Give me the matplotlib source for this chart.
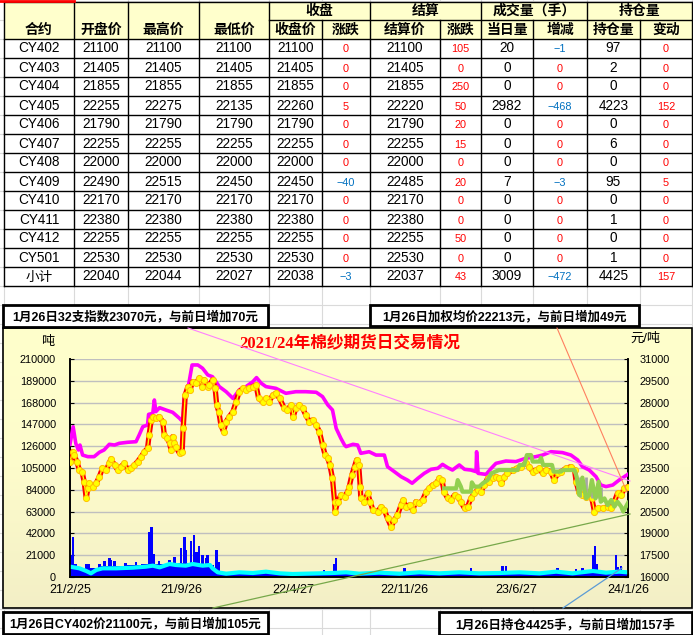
import numpy as np
import pandas as pd
import matplotlib
matplotlib.use("Agg")
import matplotlib.pyplot as plt
from matplotlib.patches import Rectangle
from matplotlib.colors import LinearSegmentedColormap

plt.rcParams['font.family'] = ['Liberation Sans', 'Noto Sans CJK SC', 'DejaVu Sans']
plt.rcParams['axes.unicode_minus'] = True

# %% table data
contracts = ["CY402", "CY403", "CY404", "CY405", "CY406", "CY407", "CY408",
             "CY409", "CY410", "CY411", "CY412", "CY501", "小计"]
open_px = [21100, 21405, 21855, 22255, 21790, 22255, 22000, 22490, 22170, 22380, 22255, 22530, 22040]
high_px = [21100, 21405, 21855, 22275, 21790, 22255, 22000, 22515, 22170, 22380, 22255, 22530, 22044]
low_px = [21100, 21405, 21855, 22135, 21790, 22255, 22000, 22450, 22170, 22380, 22255, 22530, 22027]
close_px = [21100, 21405, 21855, 22260, 21790, 22255, 22000, 22450, 22170, 22380, 22255, 22530, 22038]
close_chg = [0, 0, 0, 5, 0, 0, 0, -40, 0, 0, 0, 0, -3]
settle_px = [21100, 21405, 21855, 22220, 21790, 22255, 22000, 22485, 22170, 22380, 22255, 22530, 22037]
settle_chg = [105, 0, 250, 50, 20, 15, 0, 20, 0, 0, 50, 0, 43]
day_vol = [20, 0, 0, 2982, 0, 0, 0, 7, 0, 0, 0, 0, 3009]
vol_chg = [-1, 0, 0, -468, 0, 0, 0, -3, 0, 0, 0, 0, -472]
open_int = [97, 2, 0, 4223, 0, 6, 0, 95, 0, 1, 0, 1, 4425]
oi_chg = [0, 0, 0, 152, 0, 0, 0, 5, 0, 0, 0, 0, 157]

head_main = ["合约", "开盘价", "最高价", "最低价"]
head_groups = ["收盘", "结算", "成交量（手）", "持仓量"]
head_sub = ["收盘价", "涨跌", "结算价", "涨跌", "当日量", "增减", "持仓量", "变动"]

# %% chart data (days counted from 2021-02-25)
start = pd.Timestamp("2021-02-25")
tick_labels = ["21/2/25", "21/9/26", "22/4/27", "22/11/26", "23/6/27", "24/1/26"]
tick_dates = pd.to_datetime(["2021-02-25", "2021-09-26", "2022-04-27",
                             "2022-11-26", "2023-06-27", "2024-01-26"])

# 32支指数 (magenta, right axis)
idx_days = [0, 6, 11, 16, 19, 24, 34, 46, 56, 65, 75, 85, 94, 110, 126, 132, 139, 148, 150, 158,
            161, 164, 171, 183, 196, 209, 215, 218, 225, 228, 233, 244, 253, 263, 272, 285, 298, 311, 323, 336,
            349, 356, 365, 374, 393, 412, 431, 450, 470, 482, 492, 501, 508, 517, 524, 527, 540, 549, 555, 571,
            584, 600, 606, 619, 632, 644, 653, 664, 676, 689, 702, 711, 721, 730, 743, 753, 765, 775, 776, 779,
            794, 804, 813, 832, 851, 870, 889, 902, 918, 940, 956, 969, 978, 991, 1004, 1013, 1023, 1036, 1048, 1058,
            1065]
idx_vals = [25130, 26340, 25200, 24740, 25080, 24390, 24280, 24280, 24580, 24740, 25130, 25080, 25200, 25270, 25310, 25770, 26340, 26460, 27190, 27260,
            28180, 27380, 27650, 27490, 27330, 26920, 26690, 28520, 28980, 29560, 30590, 30590, 30360, 29900, 29780, 29100, 28750, 28290, 28870, 29100,
            29440, 29720, 29330, 29100, 28980, 28640, 28750, 28750, 28710, 28410, 27840, 27490, 26230, 25540, 25080, 24970, 25130, 25080, 24510, 24620,
            24390, 24390, 23590, 23250, 22900, 22670, 22450, 22790, 23130, 23410, 23480, 23750, 23520, 23360, 23710, 23410, 23360, 23250, 24620, 23130,
            23060, 23480, 23820, 23980, 23940, 24170, 24280, 24390, 24620, 24560, 24390, 24050, 23590, 23360, 22900, 22330, 22220, 22330, 22670, 22900,
            23070]

# 加权均价 (red line with yellow dots, right axis)
avg_days = [0, 5, 8, 13, 18, 23, 27, 31, 34, 37, 43, 50, 56, 62, 69, 75, 78, 85, 91, 97,
            104, 110, 116, 123, 129, 136, 142, 148, 151, 155, 159, 164, 170, 177, 180, 186, 190, 193, 196, 199,
            202, 209, 214, 216, 220, 225, 229, 234, 240, 247, 252, 256, 263,
            266, 272, 277, 280, 284, 288, 293, 298, 304, 311, 317, 323, 330, 336, 342, 349, 355, 360, 368, 374,
            380, 387, 393, 400, 409, 415, 422, 426, 431, 438, 444, 450, 457, 463, 470, 476, 482, 487, 492, 496,
            501, 505, 506, 511, 517, 524, 530,
            533, 538, 543, 547, 551, 554, 555, 562, 568, 573, 578, 587, 594, 600, 606, 613, 619, 625, 632, 636,
            641, 648, 654, 660, 667, 673, 680, 686, 692, 699, 705, 710, 714, 721, 727, 734, 740, 746, 753, 759,
            765, 772, 778, 784, 791, 797,
            800, 807, 813, 819, 823, 829, 835, 845, 854, 861, 870, 877, 883, 889, 896, 902, 908, 918, 924, 931,
            937, 947, 956, 963, 966, 971, 978, 985, 991, 996, 1001, 1007, 1017, 1026, 1033, 1039, 1045, 1052, 1058, 1065]
avg_vals = [23940, 24620, 24390, 23940, 23360, 23250, 22560, 21410, 22100, 22450, 22220, 22450, 22900, 23480, 23360, 23820, 24120, 23710, 23360, 23590,
            23820, 23360, 23480, 23710, 23940, 24280, 24620, 24850, 25770, 26800, 27030, 26920, 27030, 26690, 25770, 25540, 25200, 24740, 25660, 25200,
            24970, 24510, 24620, 26230, 28520, 29100, 28870, 29440, 29330, 29670, 29100, 29560, 29100,
            29210, 29560, 28980, 27840, 27380, 26460, 26000, 26690, 27030, 27380, 28060, 28750, 28980, 28870, 28980, 29100, 29210, 28290, 28060, 28290,
            28060, 28520, 28640, 28290, 27610, 27490, 27840, 27030, 27610, 27840, 27610, 27150, 26690, 26800, 26460, 26000, 25080, 24390, 24170, 23710,
            22790, 21180, 20500, 21180, 21640, 21530, 21870,
            22220, 23020, 23590, 24050, 23710, 22220, 21410, 21180, 21760, 21180, 20610, 20500, 20840, 20610, 20040, 19460, 19920, 20270, 20950, 21300,
            20840, 20950, 20610, 21180, 21070, 21300, 21870, 22100, 22330, 22450, 22790, 22670, 21870, 21410, 21300, 21640, 21530, 21180, 20720, 20840,
            21410, 21760, 21990, 21870, 22330, 22790,
            22560, 22790, 22900, 22790, 22450, 22900, 23130, 23360, 23480, 23590, 23820, 23590, 23250, 23360, 23480, 23130, 23360, 23250, 22670, 23130,
            23250, 23480, 23590, 23360, 22560, 21870, 21640, 21530, 21870, 21410, 20500, 20720, 20720, 20840, 20720, 21180, 21760, 21640, 22100, 22213]

# CY402 (green, right axis)
cy_days = [714, 737, 740, 746, 749, 765, 767, 772, 781, 788, 797, 804, 819, 854, 858, 867, 872, 880, 883, 896,
           899, 903, 920, 923, 937, 940, 963, 967, 972, 978, 985, 991, 996, 1003, 1009, 1013, 1020, 1026, 1033, 1039,
           1045, 1052, 1056, 1061, 1065]
cy_vals = [22100, 22100, 22670, 22220, 21870, 21870, 22510, 22220, 22220, 22450, 22670, 23130, 23360, 23360, 23710, 23710, 24390, 24390, 23940, 23940,
           24210, 23710, 23710, 23250, 23250, 23360, 23360, 22900, 21640, 22840, 21410, 21640, 22670, 21410, 22560, 21180, 21410, 20950, 21300, 20840,
           21180, 20840, 20500, 20840, 21100]
cy_hl_days = [974, 984, 996, 1005, 1013]
cy_hl_high = [22900, 22900, 22670, 22450, 22220]
cy_hl_low = [21530, 21410, 21410, 21410, 21180]

# 持仓量 (cyan, left axis)
oi_days = [0, 18, 31, 40, 50, 62, 88, 120, 145, 158, 171, 190, 202, 221, 234, 253, 267, 272, 282, 298,
           323, 349, 374, 400, 425, 450, 476, 501, 527, 552, 590, 629, 667, 705, 743, 781, 819, 858, 896, 928,
           959, 998, 1023, 1048, 1065]
oi_vals = [9950, 8350, 5780, 3530, 6740, 8350, 8350, 8990, 9950, 10920, 9310, 12520, 11560, 10920, 12520, 10920, 11560, 8350, 4490, 3210,
           4490, 3850, 5140, 3530, 2890, 3210, 3530, 3850, 4490, 3210, 4170, 3210, 4490, 3530, 4490, 3530, 3850, 4490, 3530, 5140,
           3530, 5780, 4170, 5140, 4425]

# 成交量 (blue, left axis): everyday level plus single spikes
vol_days = [0, 15, 30, 45, 60, 90, 120, 150, 180, 210, 240, 270, 280, 300, 400, 500, 600, 700, 800, 900, 1000, 1065]
vol_vals = [12000, 10000, 8000, 9000, 11000, 11000, 12000, 12500, 13000, 13500, 13000, 12000, 5000, 4500, 4000, 4500, 4000, 4500, 4500, 4000, 5000, 5000]
spike_days = [2, 6, 11, 32, 36, 56, 66, 75, 78, 85, 106, 126, 151, 156, 160, 170, 190, 199, 212, 218,
              221, 231, 237, 241, 246, 253, 260, 263, 280, 283, 485, 505, 508, 638, 765, 826, 832, 931, 966, 978,
              999, 1002, 1006, 1042, 1046, 1052]
spike_vals = [21000, 39000, 12500, 13000, 12500, 13000, 15000, 18000, 16000, 15000, 13500, 14000, 43000, 48000, 22000, 15000, 16000, 19000, 28000, 39000,
              26000, 35000, 40000, 24000, 30000, 21000, 18000, 21000, 26000, 14000, 6700, 13000, 18000, 8300, 8300, 11000, 11000, 9000, 7400, 8300,
              21000, 29500, 13000, 21000, 10000, 11000]

box_texts = ["1月26日32支指数23070元，与前日增加70元",
             "1月26日加权均价22213元，与前日增加49元",
             "1月26日CY402价21100元，与前日增加105元",
             "1月26日持仓4425手，与前日增加157手"]


def to_dates(days):
    return start + pd.to_timedelta(np.asarray(days), unit="D")


def fmt(v):
    return str(v).replace("-", "\u2212")


# %% figure, pixel based background layer
W, H = 693, 635
fig = plt.figure(figsize=(W / 100, H / 100), dpi=100)
bg = fig.add_axes([0, 0, 1, 1])
bg.axis("off")

col_edges = [4, 74, 128, 199, 269, 322, 370, 440, 481, 533, 587, 640, 692]

# faint spreadsheet grid
for x in col_edges:
    bg.plot([x, x], [0, H], color="#DADADA", lw=0.8, zorder=0)
for y in range(1, H, 19):
    bg.plot([0, W], [y, y], color="#DADADA", lw=0.8, zorder=0)

# table
bg.add_patch(Rectangle((4, 2), 688, 37, fc="#FFFFCC", ec="none", zorder=1))
bg.add_patch(Rectangle((4, 39), 688, 247, fc="white", ec="none", zorder=1))
lk = dict(color="black", lw=1.0, zorder=2)
bg.plot([4, 692], [2, 2], **lk)
bg.plot([269, 692], [20, 20], **lk)
for k in range(14):
    y = 39 + 19 * k
    bg.plot([4, 692], [y, y], **lk)
for x in [4, 74, 128, 199, 269, 370, 481, 587, 692]:
    bg.plot([x, x], [2, 286], **lk)
for x in [322, 440, 533, 640]:
    bg.plot([x, x], [20, 286], **lk)
bg.plot([0, 74], [0.8, 0.8], color="#FF0000", lw=2, zorder=3)

for j, name in enumerate(head_main):
    bg.text((col_edges[j] + col_edges[j + 1]) / 2, 30, name, ha="center", va="center",
            fontsize=10, weight="bold", zorder=3)
for g, name in enumerate(head_groups):
    x0, x1 = col_edges[4 + 2 * g], col_edges[6 + 2 * g]
    bg.text((x0 + x1) / 2, 11, name, ha="center", va="center", fontsize=10, weight="bold", zorder=3)
for j, name in enumerate(head_sub):
    bg.text((col_edges[4 + j] + col_edges[5 + j]) / 2, 30, name, ha="center", va="center",
            fontsize=10, weight="bold", zorder=3)

columns = [contracts, open_px, high_px, low_px, close_px, close_chg, settle_px, settle_chg,
           day_vol, vol_chg, open_int, oi_chg]
change_cols = {5, 7, 9, 11}
for j, col in enumerate(columns):
    xc = (col_edges[j] + col_edges[j + 1]) / 2
    for i, v in enumerate(col):
        yc = 39 + 19 * i + 9.5
        if j in change_cols:
            c = "#FF0000" if v >= 0 else "#0070C0"
            bg.text(xc, yc + 1, fmt(v), color=c, fontsize=7.8, ha="center", va="center", zorder=3)
        else:
            bg.text(xc, yc, fmt(v), fontsize=9.8, ha="center", va="center", zorder=3)

# chart frame
cmap = LinearSegmentedColormap.from_list("bgc", ["#FFFFCC", "#FDFCCB", "#F3EFC6"])
bg.imshow(np.linspace(0, 1, 100)[:, None], cmap=cmap, extent=(3, 692, 608, 328),
          aspect="auto", zorder=1)
bg.add_patch(Rectangle((3, 328), 689, 280, fill=False, ec="black", lw=1.2, zorder=2))
bg.text(350, 344, "2021/24年棉纱期货日交易情况", color="#FF0000", fontsize=12, weight="bold",
        ha="center", va="center", family=["Liberation Serif", "Noto Sans CJK SC"], zorder=3)
bg.text(41, 342, "吨", ha="left", va="center", fontsize=9.5, zorder=3)
bg.text(630, 339, "元/吨", ha="left", va="center", fontsize=9.5, zorder=3)
bg.set_xlim(0, W)
bg.set_ylim(H, 0)

# %% plot area
ax = fig.add_axes([70 / W, 1 - 577 / H, 558 / W, 218 / H])
ax.set_facecolor("none")
ax.fill_between(to_dates(vol_days), vol_vals, step="mid", color="#0000FF", lw=0, zorder=2)
ax.bar(to_dates(spike_days), spike_vals, width=5, color="#0000FF", lw=0, zorder=2)
ax.plot(to_dates(oi_days), oi_vals, color="#00FFFF", lw=3, zorder=3)
ax.set_ylim(0, 210000)
ax.set_yticks(np.arange(0, 210001, 21000))
ax.set_xlim(tick_dates[0], tick_dates[-1])
ax.set_xticks(tick_dates)
ax.set_xticklabels(tick_labels)
ax.yaxis.grid(True, color="#BFBFBF", lw=1)
ax.set_axisbelow(True)

ax2 = ax.twinx()
ax2.plot(to_dates(idx_days), idx_vals, color="#FF00FF", lw=2.6, zorder=3)
ax2.plot(to_dates(avg_days), avg_vals, color="#FF0000", lw=3.8, zorder=3)
ax2.plot(to_dates(avg_days), avg_vals, color="#FFFF00", lw=1.0, marker="o", ms=4.4,
         mfc="#FFFF00", mec="#FFC000", mew=0.7, zorder=4)
ax2.vlines(to_dates(cy_hl_days), cy_hl_low, cy_hl_high, color="#A6A6A6", lw=2, zorder=4)
ax2.plot(to_dates(cy_days), cy_vals, color="#92D050", lw=3, zorder=5)
ax2.set_ylim(16000, 31000)
ax2.set_yticks(np.arange(16000, 31001, 1500))

for a in (ax, ax2):
    a.spines["top"].set_visible(False)
    for s in ("left", "right", "bottom"):
        a.spines[s].set_color("black")
        a.spines[s].set_linewidth(1.2)
ax.tick_params(axis="y", direction="in", length=3, labelsize=7.8, pad=10)
ax.tick_params(axis="x", direction="in", length=3, labelsize=9, pad=5)
ax2.tick_params(axis="y", direction="in", length=3, labelsize=7.8, pad=8)

# %% overlay: callout lines and boxes
top = fig.add_axes([0, 0, 1, 1])
top.axis("off")
top.patch.set_alpha(0)
top.plot([188, 630], [328, 481], color="#FF80FF", lw=0.8)
top.plot([557, 627], [328, 492], color="#FF7F60", lw=0.8)
top.plot([213, 630], [608, 514], color="#77A84A", lw=0.9)
top.plot([563, 622], [608, 568], color="#5B9BD5", lw=0.9)

boxes = [(3, 305, 265, 22), (370, 305, 269, 21), (3, 612, 265, 22), (439, 612, 253, 23)]
for (x0, y0, w, h), txt in zip(boxes, box_texts):
    top.add_patch(Rectangle((x0, y0), w, h, fc="white", ec="black", lw=2))
    top.text(x0 + w / 2, y0 + h / 2 + 1, txt, ha="center", va="center", fontsize=9, weight="bold")
top.set_xlim(0, W)
top.set_ylim(H, 0)

fig.savefig("out.png", dpi=100)
